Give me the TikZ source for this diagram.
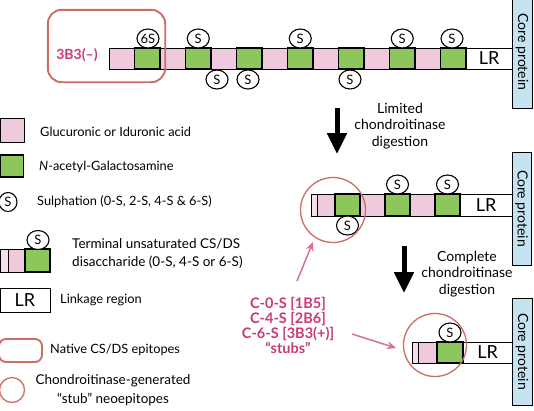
\documentclass[tikz,border=0pt]{standalone}
\usepackage{fontspec}
\setmainfont{Lato}
\usetikzlibrary{shapes.geometric,arrows.meta}
\definecolor{pinkc}{HTML}{EFC9DC}
\definecolor{greenc}{HTML}{8DC65A}
\definecolor{redc}{HTML}{CC6E62}
\definecolor{magc}{HTML}{C83A78}
\definecolor{bluec}{HTML}{C5E3F0}
\definecolor{arrc}{HTML}{DB6F9B}
\tikzset{
  unit/.style={rectangle,inner sep=0pt,outer sep=0pt,draw=black,line width=0.9pt},
  pinkbox/.style={unit,fill=pinkc},
  greenbox/.style={unit,fill=greenc,line width=1.4pt},
  lrbox/.style={unit,fill=white,font=\fontsize{18}{18}\selectfont},
  barbox/.style={unit,fill=pinkc!60},
  sulph/.style={ellipse,draw=black,fill=white,line width=1.1pt,inner sep=0pt,minimum width=22pt,minimum height=19pt,font=\fontsize{13}{13}\selectfont},
  corebox/.style={unit,fill=bluec,line width=1pt,font=\fontsize{14}{14}\selectfont},
  stubring/.style={circle,draw=redc,line width=1.3pt,inner sep=0pt},
  bigarrow/.style={line width=5pt,-{Triangle[width=19pt,length=21pt]}},
  pinkarrow/.style={draw=arrc,line width=1.5pt,-{Stealth[length=9pt,width=8pt]}},
  legtext/.style={anchor=west,font=\fontsize{12.8}{14}\selectfont,inner sep=0pt},
  steptext/.style={align=center,font=\fontsize{14}{16.5}\selectfont},
}
\begin{document}
\begin{tikzpicture}[x=1pt,y=-1pt]
\useasboundingbox (0,0) rectangle (534,410);
\fill[white] (0,0) rectangle (534,410);

% ---------- top chain ----------
\node[inner sep=0pt,minimum width=117pt,minimum height=72pt] (native) at (106.5,46) {};
\foreach \i in {0,...,13}{
  \pgfmathsetmacro{\cx}{109+25.5*\i+12.75}
  \pgfmathparse{int(mod(\i,2))}
  \ifnum\pgfmathresult=0
    \node[pinkbox,minimum width=25.5pt,minimum height=21pt] (t\i) at (\cx,58.5) {};
  \else
    \node[greenbox,minimum width=25.5pt,minimum height=21pt] (t\i) at (\cx,58.5) {};
  \fi
}
\node[lrbox,minimum width=46pt,minimum height=21pt] (tlr) at (489,58.5) {LR};
\node[corebox,minimum width=20pt,minimum height=112pt] (tcore) at (522,52) {\rotatebox{-90}{Core protein}};
\draw[redc,rounded corners=14pt,line width=1.9pt] (native.north west) rectangle (native.south east);
\node[magc,font=\bfseries\fontsize{14}{14}\selectfont] (n3b3) at (77,55) {3B3(–)};

\node[sulph] (s1) at (148,38.5) {6S};
\node[sulph] (s2) at (198.25,38.5) {S};
\node[sulph] (s3) at (300.25,38.5) {S};
\node[sulph] (s4) at (402.25,38.5) {S};
\node[sulph] (s5) at (452,38.5) {S};
\node[sulph] (s6) at (217,79.5) {S};
\node[sulph] (s7) at (248,79.5) {S};
\node[sulph] (s8) at (350,79.5) {S};

% ---------- arrow 1 ----------
\coordinate (a1s) at (337,108);
\coordinate (a1e) at (337,154);
\draw[bigarrow] (a1s) -- (a1e);
\node[steptext] (lim) at (400,126) {Limited\\chondroitinase\\digestion};

% ---------- middle chain ----------
\node[barbox,minimum width=6pt,minimum height=22pt] (mbar) at (314,205) {};
\node[pinkbox,minimum width=18pt,minimum height=22pt] (m1) at (326,205) {};
\node[greenbox,minimum width=25pt,minimum height=22pt] (m2) at (347.5,205) {};
\node[pinkbox,minimum width=25pt,minimum height=22pt] (m3) at (372.5,205) {};
\node[greenbox,minimum width=25pt,minimum height=22pt] (m4) at (397.5,205) {};
\node[pinkbox,minimum width=25pt,minimum height=22pt] (m5) at (422.5,205) {};
\node[greenbox,minimum width=25pt,minimum height=22pt] (m6) at (447.5,205) {};
\node[lrbox,minimum width=52pt,minimum height=22pt] (mlr) at (486,205) {LR};
\node[corebox,minimum width=19pt,minimum height=113pt] (mcore) at (521.5,208.5) {\rotatebox{-90}{Core protein}};
\node[sulph] (ms1) at (397.5,184.5) {S};
\node[sulph] (ms2) at (447.5,184.5) {S};
\node[sulph] (ms3) at (347.5,225.5) {S};
\node[stubring,minimum size=65pt] (ring1) at (333,210) {};

% ---------- arrow 2 ----------
\coordinate (a2s) at (404,246);
\coordinate (a2e) at (404,293);
\draw[bigarrow] (a2s) -- (a2e);
\node[steptext] (comp) at (467,274) {Complete\\chondroitinase\\digestion};

% ---------- bottom chain ----------
\node[barbox,minimum width=6pt,minimum height=21pt] (bbar) at (415,352.5) {};
\node[pinkbox,minimum width=19pt,minimum height=21pt] (b1) at (427.5,352.5) {};
\node[greenbox,minimum width=26pt,minimum height=21pt] (b2) at (450,352.5) {};
\node[lrbox,minimum width=49pt,minimum height=21pt] (blr) at (487.5,352.5) {LR};
\node[corebox,minimum width=20pt,minimum height=107pt] (bcore) at (522,351.5) {\rotatebox{-90}{Core protein}};
\node[sulph] (bs1) at (450,332.5) {S};
\node[stubring,minimum size=63pt] (ring2) at (435,345) {};

% ---------- stubs label ----------
\node[magc,align=center,font=\bfseries\fontsize{14.5}{15}\selectfont] (stubs) at (288,325) {C-0-S [1B5]\\C-4-S [2B6]\\C-6-S [3B3(+)]\\“stubs”};
\coordinate (p1s) at (297,281);
\coordinate (p1e) at (313,242);
\coordinate (p2s) at (352,334);
\coordinate (p2e) at (396,348);
\draw[pinkarrow] (p1s) -- (p1e);
\draw[pinkarrow] (p2s) -- (p2e);

% ---------- legend ----------
\node[pinkbox,minimum width=24pt,minimum height=24pt] (lg1) at (12,130) {};
\node[legtext] (lt1) at (40,132) {Glucuronic or Iduronic acid};
\node[greenbox,minimum width=23pt,minimum height=22pt] (lg2) at (12,166) {};
\node[legtext] (lt2) at (39,167) {\textit{N}-acetyl-Galactosamine};
\node[sulph,minimum width=18pt,minimum height=19pt] (lg3) at (8,202) {S};
\node[legtext] (lt3) at (37,202) {Sulphation (0-S, 2-S, 4-S \& 6-S)};
\node[barbox,minimum width=8pt,minimum height=23pt] (lg4a) at (4,260.5) {};
\node[pinkbox,minimum width=17pt,minimum height=23pt] (lg4b) at (16.5,260.5) {};
\node[greenbox,minimum width=25pt,minimum height=23pt] (lg4c) at (37.5,260.5) {};
\node[sulph] (lg4s) at (38,240) {S};
\node[legtext,align=left,font=\fontsize{13.5}{18}\selectfont] (lt4) at (72,254) {Terminal unsaturated CS/DS\\disaccharide (0-S, 4-S or 6-S)};
\node[lrbox,minimum width=50pt,minimum height=24pt] (lg5) at (25,300) {LR};
\node[legtext] (lt5) at (60,300) {Linkage region};
\draw[redc,line width=1.9pt,rounded corners=7pt] (-1,339) rectangle (42,362);
\coordinate (lg6) at (21,350.5);
\node[legtext] (lt6) at (50,350) {Native CS/DS epitopes};
\node[stubring,minimum size=25pt] (lg7) at (12,390) {};
\node[align=center,font=\fontsize{13.5}{19}\selectfont] (lt7) at (113,390) {Chondroitinase-generated\\“stub” neoepitopes};
\end{tikzpicture}
\end{document}
